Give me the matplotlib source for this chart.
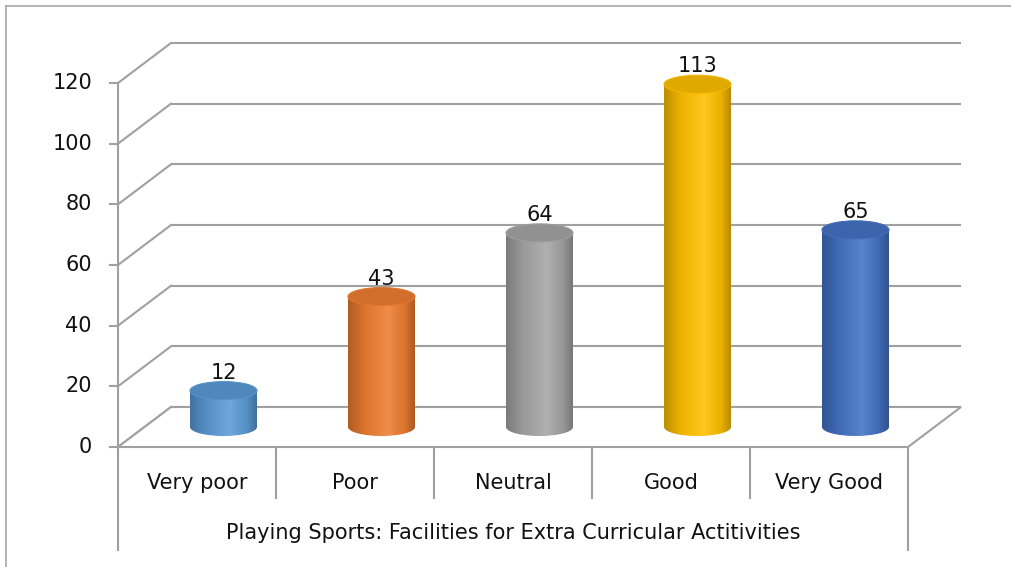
import matplotlib

matplotlib.use("Agg")
import matplotlib.pyplot as plt
import numpy as np
from matplotlib.colors import LinearSegmentedColormap, to_rgb
from matplotlib.lines import Line2D
from matplotlib.patches import Ellipse, Polygon, Rectangle

# ── Data ─────────────────────────────────────────────────────────
categories = ["Very poor", "Poor", "Neutral", "Good", "Very Good"]
values = [12, 43, 64, 113, 65]
group_label = "Playing Sports: Facilities for Extra Curricular Actitivities"
yticks = [0, 20, 40, 60, 80, 100, 120]
colors = ["#5B9BD5", "#ED7D31", "#A5A5A5", "#FFC000", "#4472C4"]

W, H = 1011, 567
fig = plt.figure(figsize=(W / 100, H / 100), dpi=100)
fig.patch.set_facecolor("white")

# front plane of the plot: x 118..908 px, y 447..83 px
ax = fig.add_axes([118 / W, (H - 447) / H, 790 / W, 364 / H])
ax.axis("off")

n = len(categories)
ymax = yticks[-1]
px_x = 790 / n           # px per category
px_y = 364 / ymax        # px per unit
dx = 53 / px_x           # depth offset in data units
dy = 40 / px_y

grid_c = "#a0a0a0"
text_c = "#111111"
lw = 1.5
font = "DejaVu Sans"
fs = 15

# back wall gridlines + left wall diagonals + y ticks
for v in yticks:
    ax.plot([dx, n + dx], [v + dy, v + dy], color=grid_c, lw=lw, clip_on=False, zorder=1,
            solid_capstyle="butt")
    ax.plot([0, dx], [v, v + dy], color=grid_c, lw=lw, clip_on=False, zorder=1)
    ax.plot([-8 / px_x, 0], [v, v], color=grid_c, lw=lw, clip_on=False, zorder=1)
    ax.text(-26 / px_x, v, str(v), ha="right", va="center", fontsize=fs, family=font,
            color=text_c)

# front vertical axis
ax.plot([0, 0], [0, ymax], color=grid_c, lw=lw, clip_on=False, zorder=1)

# floor
floor = Polygon([[0, 0], [n, 0], [n + dx, dy], [dx, dy]], closed=True, facecolor="white",
                edgecolor=grid_c, lw=lw, clip_on=False, zorder=2)
ax.add_patch(floor)

# category table below the floor
label_y = -36 / px_y
group_y = -86 / px_y
inner_bottom = -51 / px_y
outer_bottom = -103 / px_y
for i in range(n + 1):
    bottom = outer_bottom if i in (0, n) else inner_bottom
    ax.plot([i, i], [0, bottom], color=grid_c, lw=lw, clip_on=False, zorder=1)
for i, cat in enumerate(categories):
    ax.text(i + 0.5, label_y, cat, ha="center", va="center", fontsize=fs, family=font,
            color=text_c)
ax.text(n / 2, group_y, group_label, ha="center", va="center", fontsize=fs, family=font,
        color=text_c)


def shade(c, f):
    r, g, b = to_rgb(c)
    if f < 1:
        return (r * f, g * f, b * f)
    f = f - 1
    return (r + (1 - r) * f, g + (1 - g) * f, b + (1 - b) * f)


# cylinders
cyl_w = 67 / px_x
ell_h = 18 / px_y
base = dy / 2
grad = np.linspace(0, 1, 256).reshape(1, -1)
for i, (v, c) in enumerate(zip(values, colors)):
    xc = i + 0.5 + dx / 2
    x0, x1 = xc - cyl_w / 2, xc + cyl_w / 2
    top = base + v
    cmap = LinearSegmentedColormap.from_list(
        f"cyl{i}",
        [(0.0, shade(c, 0.74)), (0.25, shade(c, 0.93)), (0.6, shade(c, 1.12)),
         (0.85, shade(c, 0.92)), (1.0, shade(c, 0.72))])
    body = Rectangle((x0, base), cyl_w, v, transform=ax.transData)
    bottom = Ellipse((xc, base), cyl_w, ell_h, transform=ax.transData)
    for clip in (body, bottom):
        im = ax.imshow(grad, extent=[x0, x1, base - ell_h, top], aspect="auto", cmap=cmap,
                       zorder=3, interpolation="bilinear")
        im.set_clip_path(clip)
    cap = Ellipse((xc, top), cyl_w, ell_h, facecolor=shade(c, 0.88),
                  edgecolor=shade(c, 0.95), lw=0.8, zorder=4, clip_on=False)
    ax.add_patch(cap)
    ax.text(xc, top + ell_h / 2 + 1.0, str(v), ha="center", va="baseline", fontsize=fs,
            family=font, color=text_c, zorder=5)

ax.set_xlim(0, n)
ax.set_ylim(0, ymax)

# chart area border (only top and left visible in the crop)
fig.add_artist(Line2D([6 / W, 6 / W], [0, 1 - 6 / H], color="#a8a8a8", lw=1.2,
                      transform=fig.transFigure))
fig.add_artist(Line2D([6 / W, 1], [1 - 6 / H, 1 - 6 / H], color="#a8a8a8", lw=1.2,
                      transform=fig.transFigure))

fig.savefig("out.png", dpi=100)
plt.close(fig)
